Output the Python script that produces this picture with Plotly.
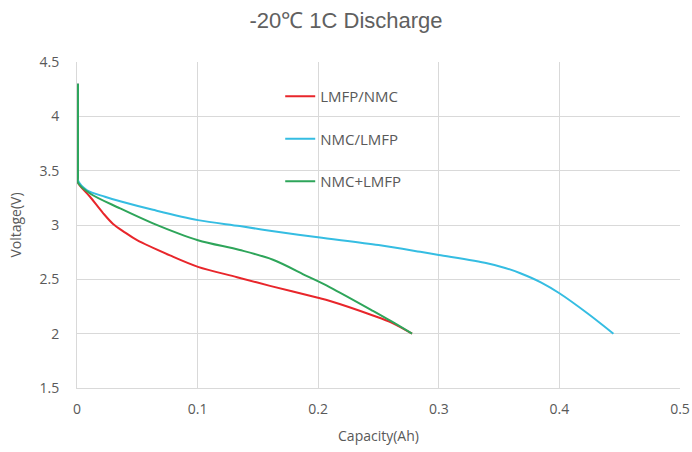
import plotly.graph_objects as go

# LMFP/NMC (red)
red_x = [0.0008, 0.0008, 0.0008, 0.0008, 0.0108, 0.0216, 0.0299, 0.040, 0.0498, 0.0771, 0.1003, 0.1327, 0.160, 0.1998, 0.2098, 0.2454, 0.2612, 0.2778]
red_y = [4.30, 3.90, 3.44, 3.39, 3.26, 3.11, 3.01, 2.93, 2.86, 2.72, 2.615, 2.52, 2.44, 2.33, 2.30, 2.167, 2.10, 2.00]

# NMC/LMFP (blue)
blue_x = [0.0008, 0.0008, 0.0008, 0.0008, 0.0083, 0.0232, 0.0373, 0.063, 0.1003, 0.135, 0.160, 0.1998, 0.250, 0.2846, 0.300, 0.340, 0.355, 0.3676, 0.385, 0.400, 0.4232, 0.4448]
blue_y = [4.30, 3.90, 3.46, 3.41, 3.32, 3.26, 3.214, 3.14, 3.045, 2.99, 2.947, 2.887, 2.815, 2.753, 2.724, 2.648, 2.605, 2.556, 2.47, 2.372, 2.188, 2.00]

# NMC+LMFP (green)
green_x = [0.0008, 0.0008, 0.0008, 0.0008, 0.0108, 0.0357, 0.063, 0.1003, 0.135, 0.1625, 0.1907, 0.2098, 0.2454, 0.2612, 0.2778]
green_y = [4.30, 3.90, 3.44, 3.39, 3.29, 3.153, 3.015, 2.86, 2.77, 2.68, 2.53, 2.427, 2.21, 2.11, 2.00]

names = ["LMFP/NMC", "NMC/LMFP", "NMC+LMFP"]
colors = ["#E8262B", "#35BDE2", "#2EA55A"]
xs = [red_x, blue_x, green_x]
ys = [red_y, blue_y, green_y]

x_ticks = [0, 0.1, 0.2, 0.3, 0.4, 0.5]
x_tick_labels = ["0", "0.1", "0.2", "0.3", "0.4", "0.5"]
y_ticks = [1.5, 2, 2.5, 3, 3.5, 4, 4.5]
y_tick_labels = ["1.5", "2", "2.5", "3", "3.5", "4", "4.5"]

fig = go.Figure()
for n, c, x, y in zip(names, colors, xs, ys):
    fig.add_trace(go.Scatter(x=x, y=y, mode="lines", name=n, legendgroup=n,
                             line=dict(color=c, width=2, shape="spline", smoothing=0.9)))

grid = "#D9D9D9"
txt = "#595959"
fig.update_layout(
    width=692, height=452,
    margin=dict(l=77, r=12, t=62, b=64, autoexpand=False),
    paper_bgcolor="white", plot_bgcolor="white",
    title=dict(text="-20℃ 1C Discharge", x=0.5, xanchor="center", y=0.955, yanchor="middle",
               font=dict(family="Liberation Sans, Arial", size=22, color="#606060")),
    font=dict(family="Open Sans, Noto Sans", color=txt),
    xaxis=dict(range=[0, 0.5], tickvals=x_ticks, ticktext=x_tick_labels, automargin=False,
               showgrid=True, gridcolor=grid, gridwidth=1, zeroline=False,
               showline=True, linecolor=grid,
               tickfont=dict(size=14, color=txt), ticks="", ticklabelstandoff=8,
               title=dict(text="Capacity(Ah)", font=dict(size=14, color=txt), standoff=14)),
    yaxis=dict(range=[1.5, 4.5], tickvals=y_ticks, ticktext=y_tick_labels, automargin=False,
               showgrid=True, gridcolor=grid, gridwidth=1, zeroline=False,
               showline=True, linecolor=grid,
               tickfont=dict(size=14, color=txt), ticks="", ticklabelstandoff=14,
               title=dict(text="Voltage(V)", font=dict(size=14, color=txt), standoff=14)),
    legend=dict(x=0.337, y=0.945, xanchor="left", yanchor="top", bgcolor="rgba(0,0,0,0)",
                font=dict(size=15, color=txt), tracegroupgap=20, itemwidth=30),
)

fig.write_html("out.html")
